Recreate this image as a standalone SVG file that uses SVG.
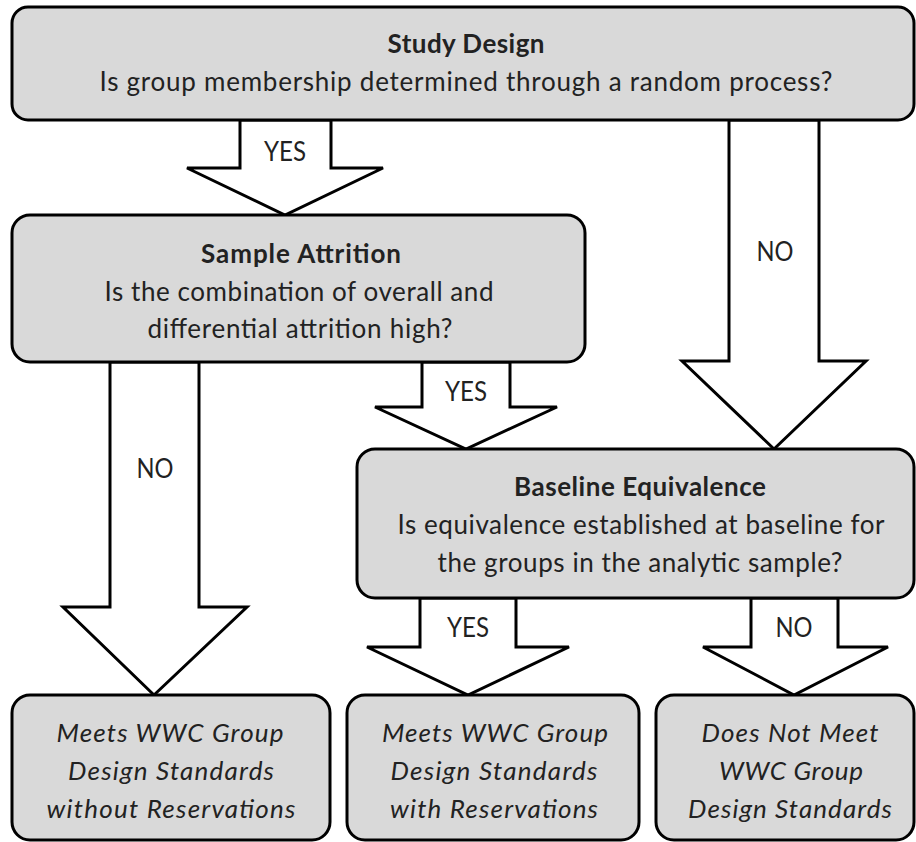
<svg xmlns="http://www.w3.org/2000/svg" width="916" height="842" viewBox="0 0 916 842">
<style>
.box{fill:#d9d9d9;stroke:#000;stroke-width:3}
.arr{fill:#fff;stroke:#000;stroke-width:3;stroke-linejoin:miter}
text{font-family:Lato,"Open Sans","Liberation Sans",sans-serif;font-size:26px;fill:#222;text-anchor:middle}
.h{font-weight:bold}
.i{font-style:italic}
</style>
<rect width="916" height="842" fill="#fff"/>
<g id="connectors">
<polygon class="arr" points="240,120 331,120 331,168 383,168 285,215 187,168 240,168"/>
<text x="285" y="161" textLength="42" lengthAdjust="spacingAndGlyphs">YES</text>
<polygon class="arr" points="729,120 819,120 819,361 866,361 774,449 682,361 729,361"/>
<text x="775" y="261" textLength="37" lengthAdjust="spacingAndGlyphs">NO</text>
<polygon class="arr" points="110,362 199,362 199,607 247,607 154,695 63,607 110,607"/>
<text x="155" y="478" textLength="37" lengthAdjust="spacingAndGlyphs">NO</text>
<polygon class="arr" points="422,362 510,362 510,407 557,407 466,449 375,407 422,407"/>
<text x="466" y="401" textLength="42" lengthAdjust="spacingAndGlyphs">YES</text>
<polygon class="arr" points="420,598 516,598 516,647 569,647 468,695 367,647 420,647"/>
<text x="468" y="637" textLength="42" lengthAdjust="spacingAndGlyphs">YES</text>
<polygon class="arr" points="751,598 838,598 838,647 888,647 794,695 703,647 751,647"/>
<text x="794" y="637" textLength="37" lengthAdjust="spacingAndGlyphs">NO</text>
</g>
<g id="study-design">
<rect class="box" x="12" y="7" width="902" height="113" rx="16"/>
<text class="h" x="466" y="53" textLength="157">Study Design</text>
<text x="466" y="91" textLength="733">Is group membership determined through a random process?</text>
</g>
<g id="sample-attrition">
<rect class="box" x="12" y="215" width="573" height="147" rx="18"/>
<text class="h" x="301" y="263" textLength="200">Sample Attrition</text>
<text x="299" y="301" textLength="389">Is the combination of overall and</text>
<text x="300" y="338" textLength="305">differential attrition high?</text>
</g>
<g id="baseline-equivalence">
<rect class="box" x="357" y="449" width="557" height="149" rx="18"/>
<text class="h" x="640" y="496" textLength="252">Baseline Equivalence</text>
<text x="641" y="534" textLength="487">Is equivalence established at baseline for</text>
<text x="640" y="572" textLength="405">the groups in the analytic sample?</text>
</g>
<g id="meets-without">
<rect class="box" x="12" y="695" width="318" height="145" rx="18"/>
<text class="i" x="170" y="742" textLength="227">Meets WWC Group</text>
<text class="i" x="171" y="780" textLength="206">Design Standards</text>
<text class="i" x="171" y="818" textLength="249">without Reservations</text>
</g>
<g id="meets-with">
<rect class="box" x="347" y="695" width="292" height="145" rx="18"/>
<text class="i" x="495" y="742" textLength="226">Meets WWC Group</text>
<text class="i" x="494" y="780" textLength="207">Design Standards</text>
<text class="i" x="494" y="818" textLength="208">with Reservations</text>
</g>
<g id="does-not-meet">
<rect class="box" x="656" y="695" width="258" height="145" rx="18"/>
<text class="i" x="790" y="742" textLength="177">Does Not Meet</text>
<text class="i" x="791" y="780" textLength="144">WWC Group</text>
<text class="i" x="790" y="818" textLength="204">Design Standards</text>
</g>
</svg>
